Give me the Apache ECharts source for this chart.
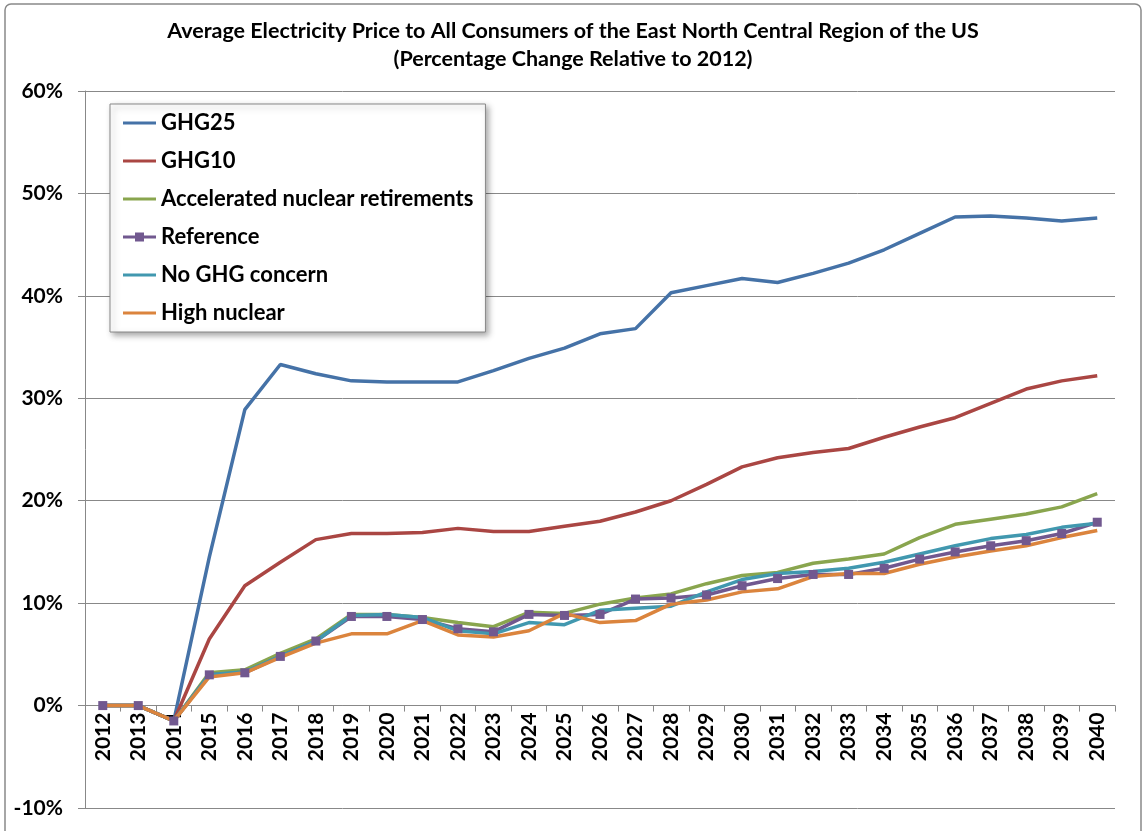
<!DOCTYPE html>
<html>
<head>
<meta charset="utf-8">
<script src="https://cdn.jsdelivr.net/npm/echarts@6/dist/echarts.min.js"></script>
<style>
  html, body { margin: 0; padding: 0; background: #fff; }
  #chart { width: 1146px; height: 831px; }
</style>
</head>
<body>
<div id="chart"></div>
<script>
// years on the x axis
var years = [];
for (var y = 2012; y <= 2040; y++) years.push(String(y));

// percent change relative to 2012
var ghg25 = [0, 0, -1.5, 14.5, 28.9, 33.3, 32.4, 31.7, 31.6, 31.6, 31.6, 32.7, 33.9, 34.9, 36.3, 36.8, 40.3, 41.0, 41.7, 41.3, 42.2, 43.2, 44.5, 46.1, 47.7, 47.8, 47.6, 47.3, 47.6];
var ghg10 = [0, 0, -1.5, 6.5, 11.7, 14.0, 16.2, 16.8, 16.8, 16.9, 17.3, 17.0, 17.0, 17.5, 18.0, 18.9, 20.0, 21.6, 23.3, 24.2, 24.7, 25.1, 26.2, 27.2, 28.1, 29.5, 30.9, 31.7, 32.2];
var accelerated = [0, 0, -1.5, 3.2, 3.5, 5.1, 6.5, 8.9, 8.9, 8.6, 8.1, 7.7, 9.1, 9.0, 9.9, 10.5, 10.9, 11.9, 12.7, 13.0, 13.9, 14.3, 14.8, 16.4, 17.7, 18.2, 18.7, 19.4, 20.7];
var reference = [0, 0, -1.5, 3.0, 3.2, 4.8, 6.3, 8.7, 8.7, 8.4, 7.5, 7.2, 8.9, 8.8, 8.9, 10.4, 10.5, 10.8, 11.7, 12.4, 12.8, 12.8, 13.4, 14.3, 15.0, 15.6, 16.1, 16.8, 17.9];
var noGhg = [0, 0, -1.5, 3.0, 3.3, 4.8, 6.3, 8.8, 8.9, 8.6, 7.3, 7.0, 8.1, 7.9, 9.3, 9.5, 9.7, 11.1, 12.3, 12.9, 13.1, 13.4, 14.0, 14.8, 15.6, 16.3, 16.7, 17.4, 17.8];
var highNuclear = [0, 0, -1.5, 2.8, 3.2, 4.7, 6.1, 7.0, 7.0, 8.3, 6.9, 6.7, 7.3, 9.0, 8.1, 8.3, 9.9, 10.3, 11.1, 11.4, 12.6, 12.9, 12.9, 13.8, 14.5, 15.1, 15.6, 16.4, 17.1];

var FONT = 'Lato';
var gridColor = '#888888';

// plot box and the y range, so the year axis can sit on the 0% line
var plotTop = 91, plotBottom = 23, yMin = -10, yMax = 60;
var zeroFromBottom = plotBottom + (0 - yMin) / (yMax - yMin) * (831 - plotTop - plotBottom);

// legend icons: plain line, and line with a square marker
var lineIcon = 'path://M0,0M33,14M0,5.5L33,5.5L33,8.5L0,8.5Z';
var markIcon = 'path://M0,0M33,14M0,5.5L12,5.5L12,2.5L21,2.5L21,5.5L33,5.5L33,8.5L21,8.5L21,11.5L12,11.5L12,8.5L0,8.5Z';

function lineSeries(name, data, color) {
  return {
    name: name,
    type: 'line',
    data: data,
    symbol: 'none',
    lineStyle: { color: color, width: 3.5 },
    itemStyle: { color: color },
    animation: false
  };
}

var chart = echarts.init(document.getElementById('chart'));

var refSeries = lineSeries('Reference', reference, '#71588F');
refSeries.symbol = 'rect';
refSeries.symbolSize = 9;
refSeries.showSymbol = true;

chart.setOption({
  backgroundColor: '#fff',
  textStyle: { fontFamily: FONT },
  title: {
    text: 'Average Electricity Price to All Consumers of the East North Central Region of the US\n(Percentage Change Relative to 2012)',
    left: 'center',
    top: 12,
    textStyle: { fontFamily: FONT, fontSize: 21.5, fontWeight: 'bold', color: '#000', lineHeight: 28 }
  },
  graphic: [{
    type: 'rect',
    shape: { x: 5, y: 4, width: 1136, height: 840, r: 6 },
    style: { fill: 'none', stroke: '#898989', lineWidth: 1.5 },
    silent: true
  }],
  legend: {
    orient: 'vertical',
    left: 110,
    top: 104,
    padding: [8, 12, 8, 13],
    itemGap: 16,
    itemWidth: 33,
    itemHeight: 14,
    backgroundColor: '#fff',
    borderColor: '#888',
    borderWidth: 1,
    shadowColor: 'rgba(0,0,0,0.35)',
    shadowBlur: 6,
    shadowOffsetX: 3,
    shadowOffsetY: 3,
    textStyle: { fontFamily: FONT, fontSize: 22, fontWeight: 'bold', color: '#000' },
    data: [
      { name: 'GHG25', icon: lineIcon },
      { name: 'GHG10', icon: lineIcon },
      { name: 'Accelerated nuclear retirements', icon: lineIcon },
      { name: 'Reference', icon: markIcon },
      { name: 'No GHG concern', icon: lineIcon },
      { name: 'High nuclear', icon: lineIcon }
    ]
  },
  grid: [
    { left: 85, right: 31, top: plotTop, bottom: plotBottom, containLabel: false, outerBoundsMode: 'none' },
    // empty grid whose bottom edge is the 0% line, only carries the year axis
    { left: 85, right: 31, top: plotTop, bottom: zeroFromBottom, containLabel: false, outerBoundsMode: 'none' }
  ],
  xAxis: [{
    type: 'category',
    gridIndex: 0,
    data: years,
    boundaryGap: true,
    axisLine: { show: false },
    axisTick: { show: false },
    axisLabel: { show: false },
    splitLine: { show: false }
  }, {
    type: 'category',
    gridIndex: 1,
    data: years,
    boundaryGap: true,
    position: 'bottom',
    axisLine: { show: true, onZero: false, lineStyle: { color: gridColor, width: 1 } },
    axisTick: { show: true, interval: 0, length: 6, lineStyle: { color: gridColor } },
    axisLabel: {
      interval: 0, rotate: 90, margin: 7,
      fontFamily: FONT, fontSize: 21, fontWeight: 'bold', color: '#000'
    },
    splitLine: { show: false }
  }],
  yAxis: [{
    type: 'value',
    gridIndex: 0,
    min: yMin,
    max: yMax,
    interval: 10,
    axisLine: { show: true, lineStyle: { color: gridColor, width: 1 } },
    axisTick: { show: true, length: 7, lineStyle: { color: gridColor } },
    axisLabel: {
      formatter: '{value}%', margin: 22,
      fontFamily: FONT, fontSize: 21, fontWeight: 'bold', color: '#000'
    },
    splitLine: { show: true, lineStyle: { color: gridColor, width: 1 } }
  }, {
    type: 'value',
    gridIndex: 1,
    min: 0,
    max: yMax,
    show: false
  }],
  series: [
    lineSeries('GHG25', ghg25, '#4572A7'),
    lineSeries('GHG10', ghg10, '#AA4643'),
    lineSeries('Accelerated nuclear retirements', accelerated, '#89A54E'),
    refSeries,
    lineSeries('No GHG concern', noGhg, '#4198AF'),
    lineSeries('High nuclear', highNuclear, '#DB843D')
  ]
});
</script>
</body>
</html>
